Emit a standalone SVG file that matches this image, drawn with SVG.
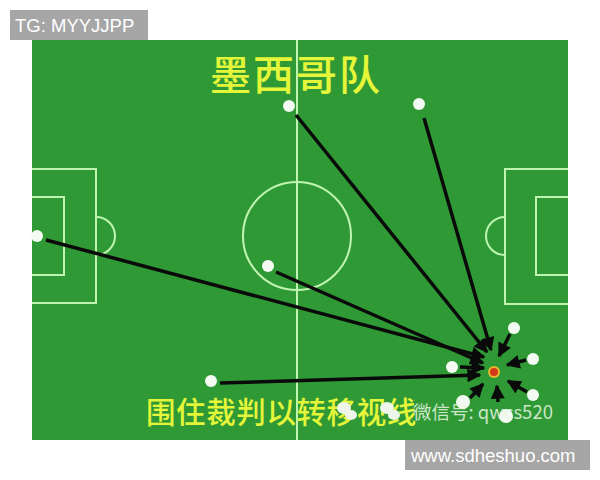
<svg xmlns="http://www.w3.org/2000/svg" width="600" height="480" viewBox="0 0 600 480">
<defs>
<marker id="ah" viewBox="0 0 10 10" refX="9" refY="5" markerWidth="4.2" markerHeight="4" orient="auto" markerUnits="strokeWidth">
<path d="M0,0 L10,5 L0,10 z" fill="#0a0a0a"/>
</marker>
<style>
.line{fill:none;stroke:#bff5b0;stroke-width:2}
.conn{stroke:#0a0a0a;stroke-width:3.5;fill:none;marker-end:url(#ah)}
.p{fill:#f4fbf2}
.tag{fill:#a6a6a6}
.tagt{font-family:"Liberation Sans",Arial,sans-serif;fill:#ffffff}
.cjk{font-family:"Noto Sans CJK SC","Noto Sans CJK JP",sans-serif;fill:#e4f53a;font-weight:500}
</style>
</defs>
<rect width="600" height="480" fill="#ffffff"/>
<g id="field">
<rect x="32" y="40" width="536" height="400" fill="#2f9a35"/>
<line class="line" x1="297" y1="40" x2="297" y2="440"/>
<circle class="line" cx="297" cy="236" r="54"/>
<polyline class="line" points="32,169 96,169 96,303 32,303"/>
<polyline class="line" points="32,197 64,197 64,275 32,275"/>
<path class="line" d="M96,217 A19,19 0 0 1 96,255"/>
<polyline class="line" points="568,169 505,169 505,304 568,304"/>
<polyline class="line" points="568,197 536,197 536,275 568,275"/>
<path class="line" d="M505,217 A19,19 0 0 0 505,255"/>
</g>
<text class="cjk" x="210" y="90" font-size="41" letter-spacing="2">墨西哥队</text>
<g id="connectors">
<line class="conn" x1="296" y1="115" x2="487" y2="352"/>
<line class="conn" x1="424" y1="118" x2="491" y2="350"/>
<line class="conn" x1="46" y1="240" x2="484" y2="357"/>
<line class="conn" x1="276" y1="272" x2="483" y2="363"/>
<line class="conn" x1="220" y1="383" x2="480" y2="375"/>
<line class="conn" x1="460" y1="367" x2="484" y2="368"/>
<line class="conn" x1="510" y1="334" x2="499" y2="356"/>
<line class="conn" x1="526" y1="360" x2="507" y2="365"/>
<line class="conn" x1="527" y1="392" x2="508" y2="381"/>
<line class="conn" x1="470" y1="398" x2="483" y2="384"/>
<line class="conn" x1="498" y1="402" x2="497" y2="386"/>
</g>
<g id="referee">
<circle cx="494" cy="372" r="6" fill="#e8b830"/>
<circle cx="494" cy="372" r="4" fill="#d23a1a"/>
</g>
<g id="players">
<circle id="p1" class="p" cx="289" cy="106" r="6"/>
<circle id="p2" class="p" cx="419" cy="104" r="6"/>
<circle id="p3" class="p" cx="37" cy="236" r="6"/>
<circle id="p4" class="p" cx="268" cy="266" r="6"/>
<circle id="p5" class="p" cx="211" cy="381" r="6"/>
<circle id="p6" class="p" cx="514" cy="328" r="6"/>
<circle id="p7" class="p" cx="533" cy="359" r="6"/>
<circle id="p8" class="p" cx="452" cy="367" r="6"/>
<circle id="p9" class="p" cx="533" cy="395" r="6"/>
<circle id="p10" class="p" cx="463" cy="402" r="7"/>
<circle id="p11" class="p" cx="506" cy="416" r="7"/>
</g>
<text class="cjk" x="146" y="423" font-size="29.5" letter-spacing="0.6">围住裁判以转移视线</text>
<g fill="#eef5ea">
<ellipse cx="344" cy="408" rx="7" ry="6"/>
<ellipse cx="351" cy="415" rx="6" ry="5"/>
<ellipse cx="387" cy="408" rx="7" ry="6"/>
<ellipse cx="394" cy="415" rx="6" ry="5"/>
</g>
<text x="413" y="419" font-size="18.5" font-family="'Noto Sans CJK SC','Liberation Sans',sans-serif" fill="#e9f5e4" fill-opacity="0.85">微信号: qwcs520</text>
<g id="tag-top">
<rect class="tag" x="10" y="10" width="138" height="30"/>
<text class="tagt" x="15" y="32" font-size="18.5">TG: MYYJJPP</text>
</g>
<g id="tag-bottom">
<rect class="tag" x="405" y="440" width="185" height="30"/>
<text class="tagt" x="411" y="462" font-size="18.5">www.sdheshuo.com</text>
</g>
</svg>
